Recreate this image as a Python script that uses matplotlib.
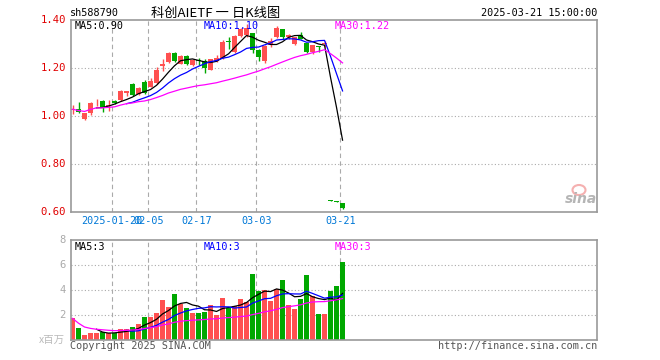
import numpy as np
import pandas as pd
import matplotlib
matplotlib.use("Agg")
import matplotlib.pyplot as plt
from matplotlib.patches import Ellipse

code = "sh588790"
title = "科创AIETF 一 日K线图"
stamp = "2025-03-21 15:00:00"

# daily candles, 2025-01-09 .. 2025-03-21
opens = [1.025, 1.028, 0.988, 1.011, 1.057, 1.062, 1.043, 1.064, 1.067, 1.097,
         1.132, 1.092, 1.140, 1.122, 1.136, 1.208, 1.224, 1.264, 1.218, 1.250,
         1.212, 1.233, 1.231, 1.192, 1.231, 1.240, 1.312, 1.268, 1.333, 1.338,
         1.347, 1.275, 1.231, 1.296, 1.331, 1.361, 1.328, 1.300, 1.337, 1.306,
         1.268, 1.292, 1.301, 0.648, 0.644, 0.636]
closes = [1.028, 1.018, 1.011, 1.053, 1.060, 1.035, 1.047, 1.053, 1.104, 1.104,
          1.087, 1.117, 1.097, 1.146, 1.192, 1.217, 1.261, 1.231, 1.250, 1.215,
          1.232, 1.230, 1.201, 1.236, 1.240, 1.310, 1.308, 1.333, 1.361, 1.365,
          1.275, 1.244, 1.292, 1.314, 1.365, 1.331, 1.337, 1.328, 1.319, 1.268,
          1.296, 1.289, 1.303, 0.646, 0.642, 0.617]
highs = [1.045, 1.060, 1.013, 1.057, 1.071, 1.067, 1.067, 1.067, 1.108, 1.104,
         1.136, 1.122, 1.150, 1.160, 1.206, 1.236, 1.265, 1.268, 1.254, 1.254,
         1.236, 1.240, 1.236, 1.238, 1.254, 1.317, 1.330, 1.338, 1.365, 1.383,
         1.347, 1.278, 1.296, 1.324, 1.375, 1.361, 1.342, 1.331, 1.351, 1.306,
         1.296, 1.292, 1.314, 0.650, 0.646, 0.636]
lows = [1.010, 1.011, 0.983, 1.003, 1.042, 1.018, 1.022, 1.050, 1.064, 1.083,
        1.083, 1.087, 1.092, 1.122, 1.133, 1.187, 1.220, 1.226, 1.215, 1.212,
        1.208, 1.212, 1.181, 1.190, 1.226, 1.236, 1.278, 1.261, 1.331, 1.331,
        1.261, 1.230, 1.219, 1.289, 1.324, 1.320, 1.319, 1.296, 1.319, 1.261,
        1.258, 1.268, 1.289, 0.644, 0.640, 0.611]
# volume, millions
volumes = [1.73, 0.96, 0.43, 0.59, 0.59, 0.61, 0.53, 0.53, 0.88, 0.88,
           1.07, 1.28, 1.87, 1.87, 2.19, 3.20, 2.67, 3.68, 2.88, 2.59,
           2.19, 2.19, 2.24, 2.80, 2.00, 3.36, 2.59, 2.72, 3.31, 3.01,
           5.28, 3.95, 4.00, 3.12, 4.08, 4.80, 2.80, 2.50, 3.28, 5.20,
           3.52, 2.08, 2.08, 3.92, 4.32, 6.24]

date_idx = [7, 13, 21, 31, 45]
date_labels = ["2025-01-20", "02-05", "02-17", "03-03", "03-21"]
price_ticks = [1.40, 1.20, 1.00, 0.80, 0.60]
vol_ticks = [8, 6, 4, 2]

RED = "#ff5050"
GREEN = "#00a800"
GRAY = "#999999"
MONO = "DejaVu Sans Mono"
W, H = 660, 360


def fpos(x, y):
    return x / W, 1 - y / H


c = pd.Series(closes)
ma5 = c.rolling(5).mean()
ma10 = c.rolling(10).mean()
ma30 = c.rolling(30, min_periods=1).mean()
v = pd.Series(volumes)
vma5 = v.rolling(5).mean()
vma10 = v.rolling(10).mean()
vma30 = v.rolling(30, min_periods=1).mean()

x = np.arange(len(closes))
up = np.array(closes) >= np.array(opens)
cols = [RED if u else GREEN for u in up]

fig = plt.figure(figsize=(6.6, 3.6), dpi=100)
ax1 = fig.add_axes([70.7 / W, 1 - 212 / H, 526.3 / W, 192 / H])
ax2 = fig.add_axes([70.7 / W, 1 - 340 / H, 526.3 / W, 100 / H])

for ax in (ax1, ax2):
    ax.set_xlim(-0.3, 87.4)
    ax.set_xticks([])
    ax.set_yticks([])
    for s in ax.spines.values():
        s.set_color(GRAY)
        s.set_linewidth(1.2)
    for d in date_idx:
        ax.axvline(d - 0.37, color="#aaaaaa", lw=0.8, ls=(0, (4, 3)), zorder=0)

# price panel
ax1.set_ylim(0.60, 1.40)
for t in price_ticks[1:-1]:
    ax1.axhline(t, color="#aaaaaa", lw=0.8, ls=(0, (1, 2)), zorder=0)
ax1.vlines(x, lows, highs, colors=cols, lw=1, zorder=2)
body = np.maximum(np.abs(np.array(closes) - np.array(opens)), 0.003)
ax1.bar(x, body, bottom=np.minimum(opens, closes), width=0.78, color=cols, zorder=2)
ax1.plot(x, ma5, color="black", lw=0.9, zorder=3)
ax1.plot(x, ma10, color="#0000ff", lw=0.9, zorder=3)
ax1.plot(x, ma30, color="#ff00ff", lw=0.9, zorder=3)

# volume panel
ax2.set_ylim(0, 8)
for t in [2, 4, 6]:
    ax2.axhline(t, color="#aaaaaa", lw=0.8, ls=(0, (1, 2)), zorder=0)
ax2.bar(x, volumes, width=0.8, color=cols, zorder=2)
ax2.plot(x, vma5, color="black", lw=0.9, zorder=3)
ax2.plot(x, vma10, color="#0000ff", lw=0.9, zorder=3)
ax2.plot(x, vma30, color="#ff00ff", lw=0.9, zorder=3)

# texts
fig.text(*fpos(70, 13), code, family=MONO, fontsize=7.3, va="center", ha="left")
fig.text(*fpos(216, 13), title, family=["Noto Sans CJK SC", "DejaVu Sans"],
         fontsize=9.5, va="center", ha="center")
fig.text(*fpos(597, 13), stamp, family=MONO, fontsize=7.3, va="center", ha="right")

for t in price_ticks:
    yy = 20 + (1.40 - t) / 0.80 * 192
    fig.text(*fpos(66, yy), "%.2f" % t, family=MONO, fontsize=7.6, color="#e00000",
             va="center", ha="right")
for t in vol_ticks:
    yy = 340 - t / 8 * 100
    fig.text(*fpos(66, yy), str(t), family=MONO, fontsize=7.6, color="#aaaaaa",
             va="center", ha="right")
fig.text(*fpos(65, 340), "x百万", family=["Noto Sans CJK SC", "DejaVu Sans"],
         fontsize=7.5, color="#bbbbbb", va="center", ha="right")

fig.text(*fpos(75, 26), "MA5:%.2f" % ma5.iloc[-1], family=MONO, fontsize=7.3, va="center")
fig.text(*fpos(204, 26), "MA10:%.2f" % ma10.iloc[-1], family=MONO, fontsize=7.3,
         color="#0000ff", va="center")
fig.text(*fpos(335, 26), "MA30:%.2f" % ma30.iloc[-1], family=MONO, fontsize=7.3,
         color="#ff00ff", va="center")
fig.text(*fpos(75, 246.5), "MA5:%d" % int(vma5.iloc[-1]), family=MONO, fontsize=7.3, va="center")
fig.text(*fpos(204, 246.5), "MA10:%d" % int(vma10.iloc[-1]), family=MONO, fontsize=7.3,
         color="#0000ff", va="center")
fig.text(*fpos(335, 246.5), "MA30:%d" % int(vma30.iloc[-1]), family=MONO, fontsize=7.3,
         color="#ff00ff", va="center")

# date labels (the first two overlap in the original too)
for d, lab in zip(date_idx, date_labels):
    ax1.text(d - 0.37, -0.047, lab, transform=ax1.get_xaxis_transform(), family=MONO,
             fontsize=7.3, color="#0078d7", ha="center", va="center", clip_on=False)

fig.text(*fpos(70, 346), "Copyright 2025 SINA.COM", family=MONO, fontsize=7.3,
         color="#555555", va="center", ha="left")
fig.text(*fpos(597, 346), "http://finance.sina.com.cn", family=MONO, fontsize=7.3,
         color="#555555", va="center", ha="right")

# sina watermark
fig.patches.append(Ellipse(fpos(579, 190), 13 / W, 10 / H, transform=fig.transFigure,
                           fill=False, edgecolor="#f5b0b0", lw=1.5))
fig.text(*fpos(581, 199), "sina", fontsize=10, style="italic", weight="bold",
         color="#b5b5b5", va="center", ha="center")

fig.savefig("out.png", dpi=100)
